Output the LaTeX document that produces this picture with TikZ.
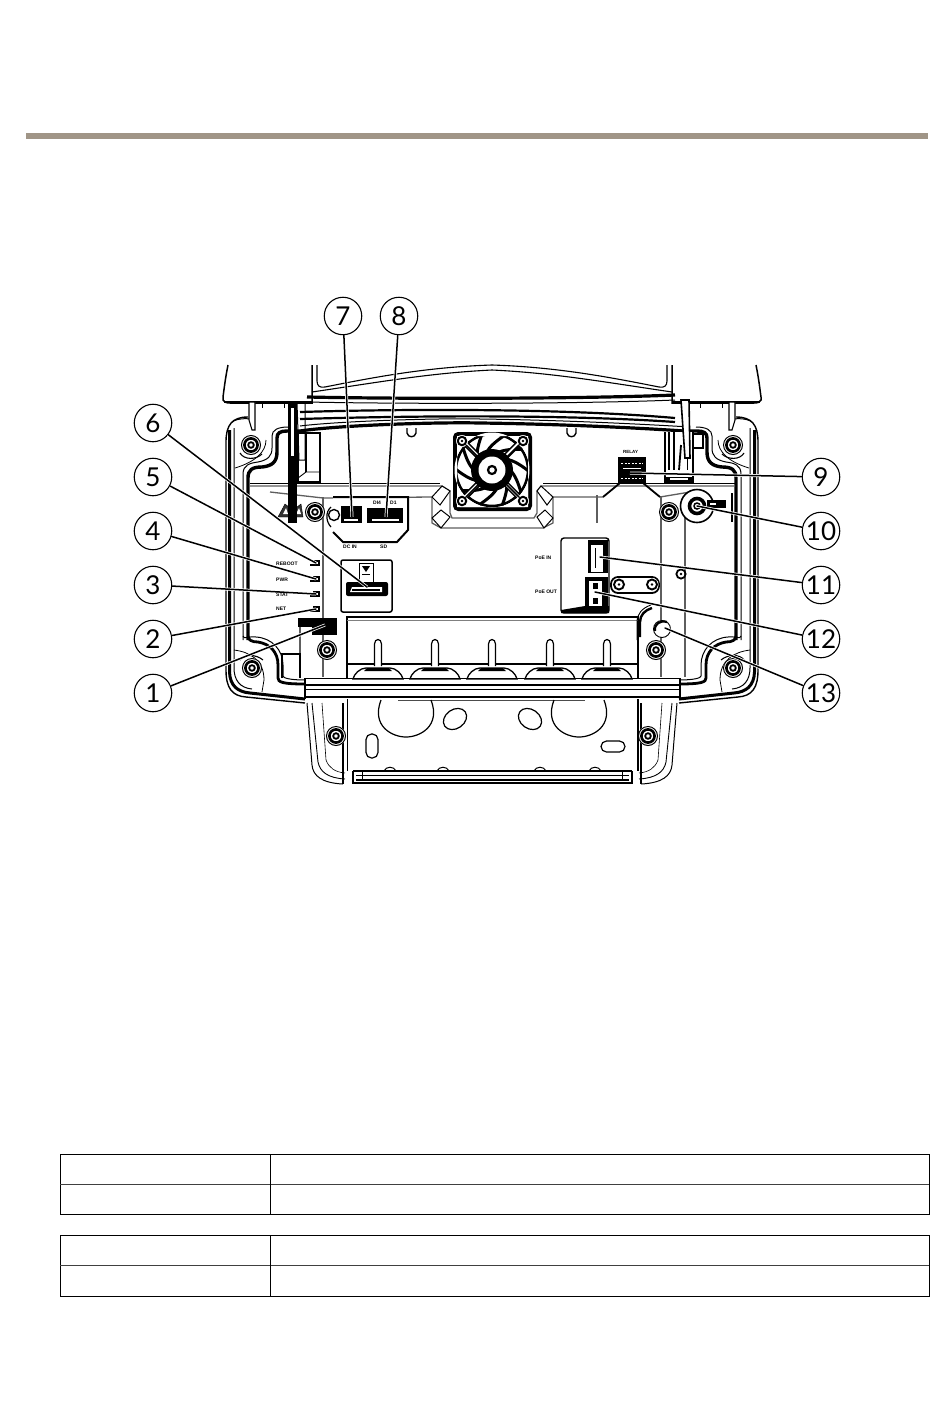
\documentclass[tikz,border=0pt]{standalone}
\usepackage{fontspec}
\setmainfont{Lato}
\newfontfamily\lblfont{Liberation Sans}
\definecolor{barcol}{HTML}{A09587}
\definecolor{wallgrey}{HTML}{5E5E5E}
\newcommand{\myscrew}[2]{%
  \fill[white] (#1,#2) circle (10);
  \draw[line width=1] (#1,#2) circle (9.5);
  \draw[line width=2.6] (#1,#2) circle (6.6);
  \draw[line width=1.8] (#1,#2) circle (2.8);
}
\newcommand{\halfpart}{%
  % lid
  \draw[fill=white,line width=1.5] (228,365) .. controls (225,380) and (224,390) .. (223,397) -- (223,400) .. controls (224,402) and (226,403) .. (230,403) -- (312,403) -- (312,365);
  \draw[line width=2.2] (224,402) -- (312,402);
  \draw[line width=1.1] (317,365) -- (317,381) .. controls (317,386) and (320,388) .. (325,387) .. controls (380,376) and (430,367) .. (492,365);
  \draw[line width=1.1] (312,392) .. controls (380,382) and (430,373) .. (492,370);
  % outer housing
  \draw[line width=1.4] (248,417) .. controls (232,417) and (226,425) .. (226,442) -- (226,670) .. controls (226,688) and (232,696) .. (246,697) -- (305,703);
  \draw[line width=1] (307,703) -- (312,765) .. controls (313,776) and (322,783) .. (343,784);
  \draw[line width=.9] (312,703) -- (318,762) .. controls (320,772) and (328,778) .. (345,779);
  \draw[line width=.6] (322,703) -- (326,760) .. controls (329,768) and (335,772) .. (345,773);
  \draw[line width=1.8] (343,703) -- (343,784);
  \draw[line width=3] (229.5,430) -- (229.5,672) .. controls (230,686) and (238,692) .. (250,693) -- (305,699);
  \draw[line width=1] (234,428) -- (234,668) .. controls (234,680) and (240,688) .. (252,689);
  \draw[line width=1] (232,422) .. controls (237,418) and (250,418) .. (254,420);
  % inner S-shaped wall, top
  \draw[line width=3.4] (248,640) -- (248,478) .. controls (248,470) and (252,467) .. (262,467) .. controls (272,466) and (277,462) .. (277,452) -- (277,438) .. controls (277,433) and (280,431) .. (287,431) -- (300,431);
  \draw[line width=1] (243,640) -- (243,474) .. controls (243,465) and (250,463) .. (258,462) .. controls (268,460) and (272,456) .. (272,448) -- (272,436) .. controls (272,430) and (278,427) .. (288,427);
  \draw[line width=.8] (235,468) .. controls (255,462) and (266,452) .. (266,440);
  % inner wall, bottom
  \draw[line width=2.8] (248,636) .. controls (248,640) and (252,642) .. (258,642) .. controls (270,644) and (278,652) .. (278,665) -- (278,678) .. controls (278,682) and (282,684) .. (305,684);
  \draw[line width=1] (243,636) .. controls (244,640) and (248,636) .. (256,637) .. controls (272,638) and (283,650) .. (283,665) -- (283,676) .. controls (283,678) and (290,680) .. (305,680);
  \draw[line width=.8] (234,650) .. controls (250,652) and (264,660) .. (264,680) -- (262,692);
  % hinge tabs
  \draw[fill=white,line width=1.1] (249,402) -- (249,420) -- (252,430) -- (255,430) -- (255,402) -- cycle;
  \draw[line width=.7] (262,403) -- (262,408);
  \draw[line width=.7] (284,403) -- (284,408);
  % arcs around the corner screws
  \draw[line width=1.1] (240,453) .. controls (244,460) and (256,460) .. (262,454);
  \draw[line width=1.1] (240,660) .. controls (244,654) and (256,654) .. (263,660);
}
\begin{document}
\begin{tikzpicture}[x=1pt,y=-1pt,
  callout/.style={circle,draw,line width=1.1,minimum size=37.5pt,inner sep=0pt,fill=white,font=\fontsize{26}{26}\selectfont},
  leader/.style={line width=1.5,line cap=round},
  tiny/.style={font=\lblfont\bfseries\fontsize{5}{5}\selectfont,inner sep=0pt,anchor=west},
  wall/.style={line width=1.3,wallgrey},
  edge/.style={line width=1},
  tabline/.style={line width=.9},
  tabthin/.style={line width=.8,black!75}]
\useasboundingbox (0,0) rectangle (950,1408);
\fill[white] (0,0) rectangle (950,1408);
\fill[barcol] (26,133) rectangle (928,139);

% ---- diagram ----
\halfpart
\begin{scope}[xshift=984pt,xscale=-1]
\halfpart
\end{scope}

% top bars
\draw[line width=3.2] (307,397) .. controls (400,399) and (580,399) .. (675,395);
\draw[line width=1] (307,402) .. controls (400,404) and (580,404) .. (675,400);
\draw[line width=2.2] (300,412) .. controls (400,409) and (560,408) .. (675,418);
\draw[line width=2.2] (300,419) .. controls (400,416) and (560,414) .. (675,422);
\draw[line width=3.2] (300,431) .. controls (340,425) and (440,422) .. (480,423) .. controls (560,424) and (640,428) .. (684,431);
\draw[edge] (300,426) .. controls (340,421) and (440,418) .. (480,419) .. controls (560,420) and (640,424) .. (690,427);
% small notches under the top bar
\draw[line width=1.4] (407,428) -- (407,433) .. controls (408,438) and (415,438) .. (416,433) -- (416,428);
\draw[line width=1.4] (567,428) -- (567,433) .. controls (568,438) and (575,438) .. (576,433) -- (576,428);

% wall band around the fan
\draw[wall] (250,486) -- (442,486) -- (450,491) -- (450,513) -- (452,518) -- (534,518) -- (537,513) -- (537,491) -- (541,486) -- (735,486);
\draw[edge] (250,483.5) -- (440,483.5);
\draw[edge] (543,483.5) -- (735,483.5);
\draw[wall] (270,492) -- (323,498) -- (432,497) -- (432,523) -- (441,528) -- (543,528) -- (553,523) -- (553,497) -- (603,497);
\draw[wall] (660,497) -- (690,492);
\draw[wall] (323,497) -- (323,677);
\draw[wall] (300,627) -- (300,677);
\draw[wall] (661,497) -- (661,677);
\draw[wall] (685,497) -- (685,677);
% fan recess tabs
\draw[fill=white,edge] (442,486) -- (450,491) -- (440,505) -- (432,497) -- cycle;
\draw[fill=white,edge] (432,518) -- (441,510) -- (450,517) -- (441,528) -- cycle;
\draw[fill=white,edge] (541,486) -- (537,491) -- (547,505) -- (553,497) -- cycle;
\draw[fill=white,edge] (537,517) -- (545,510) -- (553,518) -- (544,528) -- cycle;
% relay bump
\draw[line width=1.8] (603,497) -- (620,483);
\draw[line width=1.8] (643,483) -- (660,497);
\draw[line width=2,wallgrey] (597,495) -- (597,523);
\draw[line width=1.8] (732,493) -- (732,522);

% left hinge bar
\draw[line width=1.4,fill=white] (298,433) -- (320,433) -- (320,482) -- (298,482) -- cycle;
\draw[line width=.9] (298,478) -- (306,472) -- (320,472);
\draw[line width=2.4] (306,433) -- (306,472);
\draw[fill=black!80] (278,517) -- (285,504) -- (293,510) -- (301,504) -- (303,517) -- cycle;
\fill[white] (283,514) -- (286,508) -- (288,514) -- cycle;
\fill[white] (296,514) -- (299,508) -- (301,514) -- cycle;
\fill[black] (288,402) -- (297,402) -- (297,523) -- (288,523) -- cycle;
\fill[white] (291,408) rectangle (294,456);
\draw[line width=1] (297,403) -- (299,460) -- (305,460) -- (305,403);
% right hinge bar
\draw[line width=1.4,fill=white] (665,432) -- (665,482) -- (693,482) -- (693,432);
\draw[line width=1.1] (669,432) -- (669,470);
\draw[line width=1.1] (674,432) -- (674,470);
\fill (666,477) rectangle (692,482);
\fill[white] (670,478) rectangle (688,480);
\draw[line width=1.6,fill=white] (681,400) -- (685,458) -- (690,458) -- (689,400) -- cycle;
\draw[line width=1.8] (681,445) -- (679,470);
\draw[line width=1] (687,458) -- (687,470);
\draw[line width=1.8,fill=white] (693,434) rectangle (703,448);

% corner screws
\myscrew{251}{445}
\myscrew{733}{445}
\myscrew{252}{668}
\myscrew{733}{668}
% inner screws
\myscrew{315}{512}
\myscrew{669}{512}
\myscrew{327}{650}
\myscrew{656}{650}
\myscrew{336}{736}
\myscrew{648}{736}

% fan
\fill[rounded corners=5pt] (453,432) rectangle (532,511);
\fill[white,rounded corners=3pt] (457,436) rectangle (528,507);
\begin{scope}[shift={(492,470)}]
  \foreach \a in {0,36,...,324}{
    \draw[line width=3] (\a:18) .. controls (\a+12:24) and (\a+28:30) .. (\a+38:37);
  }
  \draw[line width=2.6] (0,0) circle (36);
  \foreach \a in {45,135,225,315}{
    \draw[line width=6,rotate=\a] (16,0) -- (48,0);
    \draw[line width=2.6,white,rotate=\a] (18,0) -- (46,0);
  }
  \fill (0,0) circle (21);
  \fill[white] (0,0) circle (13.5);
  \draw[line width=2.2] (0,0) circle (4);
\end{scope}
\fill[white,even odd rule] (457,436) rectangle (528,507) (492,470) circle (37.5);
\foreach \p/\q in {462/441,523/441,462/501,523/501}{
  \fill[white] (\p,\q) circle (6);
  \draw[line width=2] (\p,\q) circle (4.2);
  \fill (\p,\q) circle (1.3);
}
% corner diagonals of the fan
\draw[line width=1.6] (466,445) -- (480,459);
\draw[line width=1.6] (519,445) -- (505,459);
\draw[line width=1.6] (466,497) -- (480,483);
\draw[line width=1.6] (519,497) -- (505,483);

% connector board
\draw[fill=white,line width=2] (333,497) -- (408,497) -- (408,530) -- (397,542) -- (343,542) -- (333,532);
\fill[white] (325,503) rectangle (332,528);
\draw[line width=1.4] (334,515) circle (5.5);
\draw[line width=1.2] (331,507) .. controls (325,512) and (326,522) .. (331,527);
\fill (341,506) rectangle (362,523);
\fill[white] (344,519) rectangle (358,521);
\fill (367,508) rectangle (403,523);
\fill[white] (372,519) rectangle (399,520.5);

% LED marks
\foreach \q in {563,579,594,609}{
  \draw[line width=1.4] (310,\q+2) -- (319,\q+2) -- (319,\q-2) -- (313,\q-2);
}

% SD slot
\draw[fill=white,line width=1.5,rounded corners=2pt] (341,560) rectangle (392,612);
\draw[line width=1,fill=white] (359,563) rectangle (373,582);
\fill (362,566) -- (370,566) -- (366,572) -- cycle;
\draw[line width=.6] (362,574) -- (370,574);
\fill[rounded corners=2pt] (346,582) rectangle (388,596);
\fill[white] (352,587) -- (382,587) -- (382,592) -- (350,592) -- cycle;
\draw[line width=1.2] (352,590) -- (380,590);

% black block
\fill (298,618) rectangle (337,627);
\fill (312,618) rectangle (337,635);
% relay
\fill (618,457) rectangle (646,483);
\draw[white,line width=.8,dash pattern=on 2pt off 1.5pt] (621,463) -- (643,463);
\draw[white,line width=.8] (623,468) -- (641,468);
\draw[white,line width=.8,dash pattern=on 2pt off 1.5pt] (621,478) -- (643,478);
% button 10
\draw[fill=white,line width=1.6] (697,506) circle (16.5);
\draw[line width=3.6] (697,506) circle (7.5);
\draw[line width=1.5] (697,506) circle (3);
\draw[line width=1.6,fill=black] (708,501) rectangle (725,507);
\fill[white] (710,503) rectangle (716,505);
% small screw
\draw[line width=1.8] (681,574) circle (4.6);
\fill (681,574) circle (1.4);

% PoE block
\draw[fill=white,line width=1.4,rounded corners=3pt] (561,538) rectangle (609,613);
\fill (561,610) -- (585,606) -- (609,606) -- (609,613) -- (561,613) -- cycle;
\fill (588,540) rectangle (608,573);
\fill[white] (591,545) rectangle (603,572);
\draw[line width=1] (595,548) -- (595,568);
\fill (585,577) rectangle (608,608);
\fill[white] (589,581) rectangle (602,606);
\fill (593,583) rectangle (598,589);
\fill (593,598) rectangle (598,604);
\fill (602,587) rectangle (608,600);
% plate
\draw[fill=white,line width=1.8,rounded corners=7pt] (611,577) rectangle (659,593);
\foreach \p in {619,652}{
  \fill[white] (\p,584.5) circle (6.5);
  \draw[line width=1.9] (\p,584.5) circle (5);
  \fill (\p,584.5) circle (1.4);
}

% bottom gland panel
\draw[fill=white,line width=1.1] (347,678) -- (347,617) -- (638,617) -- (638,678);
\draw[wall,black!50] (347,620.5) -- (638,620.5);
\draw[line width=2.6] (348,664) -- (638,664);
\foreach \gx in {378,435,492,550,607}{
  \draw[fill=white,line width=1.2] (\gx-3.5,666) -- (\gx-3.5,644) .. controls (\gx-3.5,638) and (\gx+3.5,638) .. (\gx+3.5,644) -- (\gx+3.5,666);
  \draw[fill=white,line width=1.3] (\gx-25,679) .. controls (\gx-24,674) and (\gx-18,668) .. (\gx-12,668) -- (\gx+12,668) .. controls (\gx+18,668) and (\gx+24,674) .. (\gx+25,679) -- cycle;
  \fill (\gx-11,668) -- (\gx+11,668) -- (\gx+14,671) -- (\gx-14,671) -- cycle;
}
% curved right wall piece
\draw[line width=2.4] (652,608) .. controls (645,610) and (640,615) .. (640,622) -- (640,637);
\draw[line width=.9] (651,605) .. controls (642,608) and (637,614) .. (637,622) -- (637,640);
\draw[line width=.9] (638,640) -- (638,678);
% button 13
\draw[fill=white,line width=.9] (662,629) circle (8.5);
\draw[line width=2.2] (655,631) .. controls (654,624) and (660,620) .. (667,622);

% bottom rail
\draw[line width=1.1] (305,678.5) -- (680,678.5);
\draw[line width=2.6] (305,685) -- (680,685);
\draw[line width=1] (305,689) -- (680,689);
\draw[line width=2.2] (305,697) -- (680,697);
\draw[line width=1.8,black!70] (398,700.5) -- (585,700.5);
\draw[line width=1.2] (305,678) -- (305,699);
\draw[line width=1.2] (680,678) -- (680,699);

% junction box
\draw[edge] (347,699) -- (347,771);
\draw[line width=1.2] (638,699) -- (638,771);
\draw[line width=1.2] (381,700) .. controls (371,726) and (392,737) .. (406,737) .. controls (420,737) and (441,726) .. (431,700);
\draw[line width=1.2] (554,700) .. controls (544,726) and (565,737) .. (579,737) .. controls (593,737) and (614,726) .. (604,700);
\draw[line width=1.2,rotate around={35:(455,719)}] (455,719) ellipse (12.5 and 9.5);
\draw[line width=1.2,rotate around={-35:(530,719)}] (530,719) ellipse (12.5 and 9.5);
\draw[line width=1.2,rounded corners=5.5pt] (366,734) rectangle (378,758);
\draw[line width=1.2,rounded corners=5.5pt] (601,741) rectangle (625,752);
\draw[line width=1.5] (353,771) -- (353,783) -- (632,783) -- (632,771);
\draw[line width=1.2] (353,771) -- (632,771);
\draw[line width=.7] (356,775) -- (629,775);
\draw[line width=1.2] (356,780) -- (629,780);
\draw[line width=.7] (362,771) -- (362,780);
\draw[line width=.7] (622,771) -- (622,780);
\foreach \bx in {390,443,540,595}{
  \draw[line width=1] (\bx-6,771) .. controls (\bx-4,766) and (\bx+4,766) .. (\bx+6,771);
}
% left bracket
\draw[line width=1.2] (282,678) -- (282,654) -- (300,654) -- (300,678);

% ---- callouts ----
\coordinate (t1) at (325,625);
\coordinate (t2) at (316,609);
\coordinate (t3) at (316,594);
\coordinate (t4) at (316,579);
\coordinate (t5) at (316,563);
\coordinate (t6) at (367,587);
\coordinate (t7) at (352,517);
\coordinate (t8) at (386,517);
\coordinate (t9) at (630,473);
\coordinate (t10) at (697,506);
\coordinate (t11) at (600,557);
\coordinate (t12) at (595,592);
\coordinate (t13) at (665,628);
\node[callout] (c1) at (153,693) {1};
\node[callout] (c2) at (153,639) {2};
\node[callout] (c3) at (153,585) {3};
\node[callout] (c4) at (153,531) {4};
\node[callout] (c5) at (153,477) {5};
\node[callout] (c6) at (153,423) {6};
\node[callout] (c7) at (343,316) {7};
\node[callout] (c8) at (399,316) {8};
\node[callout] (c9) at (821,477) {9};
\node[callout] (c10) at (821,531) {10};
\node[callout] (c11) at (821,585) {11};
\node[callout] (c12) at (821,639) {12};
\node[callout] (c13) at (821,693) {13};
\foreach \i in {1,...,13}{
  \draw[white,line width=3] (c\i) -- (t\i);
  \draw[leader] (c\i) -- (t\i);
}

% small print on the board
\node[tiny] (lblA) at (373,503) {DI4};
\node[tiny] (lblA2) at (390,503) {D1};
\node[tiny] (lblB) at (343,547) {DC IN};
\node[tiny] (lblC) at (380,547) {SD};
\node[tiny] (lblD) at (276,564) {REBOOT};
\node[tiny] (lblE) at (276,580) {PWR};
\node[tiny] (lblF) at (276,595) {STAT};
\node[tiny] (lblG) at (276,609) {NET};
\node[tiny,font=\lblfont\bfseries\fontsize{4.5}{4.5}\selectfont] (lblH) at (623,452) {RELAY};
\node[tiny] (lblI) at (535,558) {PoE IN};
\node[tiny] (lblJ) at (535,592) {PoE OUT};

% ---- tables ----
\draw[tabline] (60,1154) rectangle (929,1214);
\draw[tabthin] (60,1184) -- (929,1184);
\draw[tabline] (270,1154) -- (270,1214);
\draw[tabline] (60,1235) rectangle (929,1296);
\draw[tabthin] (60,1265) -- (929,1265);
\draw[tabline] (270,1235) -- (270,1296);
\end{tikzpicture}
\end{document}
